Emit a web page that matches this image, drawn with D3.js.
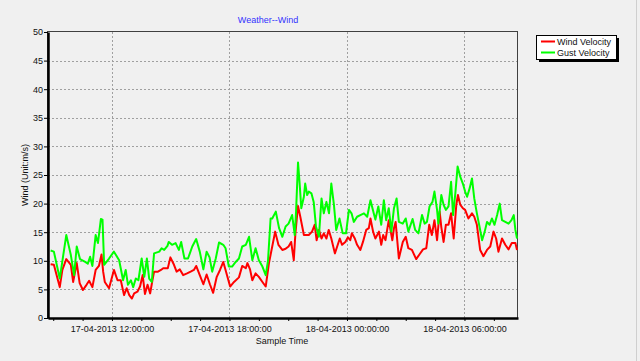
<!DOCTYPE html>
<html>
<head>
<meta charset="utf-8">
<script src="https://cdn.jsdelivr.net/npm/d3@7"></script>
<style>
  body { margin: 0; background: #f0f0f0; }
  text { font-family: "Liberation Sans", Arial, sans-serif; font-size: 9px; }
</style>
</head>
<body>
<div id="my_chart"></div>
<script>
// data (times 17-04-2013 .. 18-04-2013, rollover at midnight)
const gustTimes = [
  "08:52","09:02","09:20","09:40","09:54","10:04","10:12","10:22","10:38","10:46",
  "10:53","11:00","11:10","11:17","11:26","11:31","11:36","11:51","12:06","12:22",
  "12:34","12:42","12:49","12:58","13:05","13:13","13:21","13:31","13:39","13:47",
  "13:54","14:02","14:09","14:25","14:32","14:40","14:50","14:54","15:04","15:15",
  "15:25","15:32","15:42","15:53","16:06","16:18","16:29","16:40","16:50","16:59",
  "17:07","17:18","17:28","17:41","17:48","17:58","18:08","18:19","18:29","18:39",
  "18:50","19:00","19:10","19:20","19:30","19:41","19:51","19:58","20:06","20:11",
  "20:22","20:32","20:42","20:52","21:01","21:12","21:20","21:24","21:30","21:35",
  "21:40","21:48","21:52","21:58","22:03","22:11","22:18","22:25","22:34","22:42",
  "22:49","22:57","23:05","23:12","23:20","23:27","23:37","23:47","23:57","00:06",
  "00:14","00:21","00:31","00:41","00:52","01:02","01:12","01:22","01:27","01:36",
  "01:45","01:53","02:00","02:08","02:16","02:24","02:32","02:39","02:51","03:00",
  "03:08","03:21","03:29","03:39","03:50","03:58","04:05","04:13","04:22","04:28",
  "04:36","04:40","04:49","04:56","05:03","05:11","05:19","05:25","05:32","05:39",
  "05:47","05:55","06:02","06:08","06:16","06:23","06:30","06:38","06:46","06:54",
  "07:02","07:09","07:17","07:24","07:32","07:40","07:48","07:55","08:05","08:15",
  "08:24","08:31","08:36","08:41"
];
const gustValues = [
  11.8,11.6,6.9,14.5,11,7.5,12.5,10.3,9.8,9.5,
  10.7,9.1,14.5,13.1,17.3,17.2,9.3,10.4,11.6,10.1,
  6.6,8.4,5.8,6.6,5.4,6.9,6.6,10.4,7.2,10.4,
  6.9,6.3,11.3,11.6,12.2,11.9,12.6,13.3,12.8,13.1,
  11.9,13.3,10.4,10.4,12.5,13.8,11.6,8.5,11.6,10.6,
  8.1,10.4,13.2,12.8,12.2,9.0,9.0,9.8,10.4,12.5,
  12.8,14.2,10.1,12.2,10.1,9.0,7.5,10,17.4,17.4,
  18.6,15.7,14.2,16,16.5,18,14.5,18.6,27.2,23.5,
  19.2,21.2,23.5,21.5,22.1,21.8,20.3,16,14.2,20.9,
  18.3,20.3,18.3,23.5,19.8,15.4,17.4,14.8,14.8,18.9,
  18.3,16.8,17.7,18,18.3,17.7,20.6,18.3,17.2,19.5,
  16.3,20.6,17.1,19.2,15.1,19.2,20.9,16.8,16.5,17.4,
  15.1,17.3,15.4,14.8,18,16.5,16.8,19.5,20.3,22.1,
  18.9,16.5,21.5,19.8,18.9,19.5,23.8,18,21.8,26.5,
  24.7,23.5,22.1,21.2,22.7,24.4,20.9,18.3,16,13.6,
  15.1,16.8,16.3,17.4,16.3,18,20,17.1,16.8,16.5,
  17.1,18,15.4,13.9
];
const windTimes = [
  "08:52","09:02","09:20","09:28","09:40","09:54","10:01","10:12","10:21","10:31",
  "10:42","10:50","11:00","11:10","11:20","11:28","11:33","11:38","11:51","12:06",
  "12:17","12:27","12:37","12:45","12:53","13:01","13:08","13:18","13:26","13:34",
  "13:41","13:49","13:57","14:04","14:09","14:21","14:30","14:37","14:51","14:59",
  "15:10","15:18","15:28","15:38","15:50","16:01","16:11","16:18","16:29","16:40",
  "16:50","17:00","17:10","17:21","17:31","17:41","17:48","18:02","18:14","18:29",
  "18:39","18:50","18:55","19:03","19:10","19:20","19:30","19:41","19:51","20:01",
  "20:11","20:20","20:30","20:42","20:52","21:01","21:09","21:17","21:22","21:30",
  "21:37","21:48","22:03","22:13","22:21","22:27","22:34","22:42","22:49","22:57",
  "23:04","23:12","23:23","23:30","23:38","23:45","23:55","00:03","00:10","00:15",
  "00:24","00:31","00:41","00:49","00:59","01:07","01:12","01:20","01:27","01:38",
  "01:45","01:51","01:58","02:08","02:19","02:24","02:29","02:39","02:51","03:00",
  "03:08","03:19","03:32","03:42","03:53","04:03","04:12","04:20","04:28","04:36",
  "04:44","04:49","04:56","05:03","05:11","05:19","05:27","05:35","05:40","05:47",
  "05:55","06:02","06:12","06:23","06:30","06:38","06:48","06:58","07:09","07:19",
  "07:29","07:37","07:44","07:55","08:05","08:15","08:25","08:36","08:41"
];
const windValues = [
  9.4,9.3,5.4,8.4,10.3,9.3,6.3,9.6,6.1,4.9,
  5.8,6.5,5.4,8.4,9.1,11.1,8.1,6.3,5.2,8.4,
  6.6,6.6,4.0,5.2,4.0,3.4,4.3,4.6,5.5,7.5,
  4.2,5.8,4.3,6.6,8.1,8.1,8.4,8.7,8.7,10.6,
  9.3,8.1,8.5,7.5,7.8,8.1,8.4,9.1,7.5,5.9,
  7.6,5.9,4.4,7.2,8.4,9.8,8.4,5.5,6.3,7.1,
  9.1,8.7,9.6,8.5,6.6,7.8,7.2,6.3,5.5,9.6,
  12.5,15.1,12.8,11.9,12.1,12.5,13.3,10.1,14.8,19.6,
  17.7,14.5,14.5,15.1,16.3,13.6,15.4,13.9,14.8,13.9,
  15.4,13.9,11.3,12.5,13.9,12.8,13.3,14.1,13.6,14.8,
  13.9,12.8,11.9,13.3,15.4,15.7,17.4,15.1,13.9,15.1,
  12.8,14.5,13.6,17.1,13.6,15.7,16.8,10.4,13.3,14.2,
  12.2,11.9,10.3,11.1,12,12.2,16.3,14.5,17.1,13.6,
  18.6,15.9,13.3,16.3,16.3,18.3,13.9,19.8,21.5,19.8,
  19.2,18.9,17.4,18.3,17.7,16.3,11.9,10.8,11.9,12.5,
  15.1,13.9,11.6,13.9,12.8,12,13.1,13.1,11.9
];
const yTicks = [0, 5, 10, 15, 20, 25, 30, 35, 40, 45, 50];
const seriesNames = ["Wind Velocity", "Gust Velocity"];
const seriesColors = ["#ff0000", "#00ff00"];
const startTime = new Date(2013, 3, 17, 8, 44);
const endTime = new Date(2013, 3, 18, 8, 44);

// plot box inside the 640x361 picture
const margin = { top: 32, right: 122, bottom: 43, left: 48 },
    fullW = 640, fullH = 361,
    width = fullW - margin.left - margin.right,
    height = fullH - margin.top - margin.bottom;

function toDates(times) {
    let day = 17, prev = -1;
    return times.map(t => {
        const [h, m] = t.split(":").map(Number);
        if (h * 60 + m < prev) day++;
        prev = h * 60 + m;
        return new Date(2013, 3, day, h, m);
    });
}

const wind = toDates(windTimes).map((d, i) => ({ t: d, v: windValues[i] }));
const gust = toDates(gustTimes).map((d, i) => ({ t: d, v: gustValues[i] }));

const root = d3.select("#my_chart")
    .append("svg")
    .attr("width", fullW)
    .attr("height", fullH);

root.append("rect").attr("width", fullW).attr("height", fullH).attr("fill", "#f0f0f0");
// window edge at the right
root.append("line")
    .attr("x1", 636.5).attr("x2", 636.5).attr("y1", 0).attr("y2", fullH)
    .attr("stroke", "#cfcfcf");

const svg = root.append("g")
    .attr("transform", `translate(${margin.left},${margin.top})`);

const x = d3.scaleTime().domain([startTime, endTime]).range([0, width]);
const y = d3.scaleLinear().domain([0, 50]).range([height, 0]);

// grid
svg.append("g")
    .selectAll("line")
    .data(yTicks.filter(d => d > 0 && d < 50))
    .join("line")
    .attr("x1", 0).attr("x2", width)
    .attr("y1", d => Math.round(y(d)) + 0.5).attr("y2", d => Math.round(y(d)) + 0.5)
    .attr("stroke", "#a0a0a0")
    .attr("stroke-dasharray", "2,2");

const majorTimes = d3.timeHour.every(6).range(startTime, endTime);
svg.append("g")
    .selectAll("line")
    .data(majorTimes)
    .join("line")
    .attr("x1", d => Math.round(x(d)) + 0.5).attr("x2", d => Math.round(x(d)) + 0.5)
    .attr("y1", 0).attr("y2", height)
    .attr("stroke", "#a0a0a0")
    .attr("stroke-dasharray", "2,2");

// frame
svg.append("rect")
    .attr("x", -0.5).attr("y", -0.5)
    .attr("width", width).attr("height", height + 1)
    .attr("fill", "none")
    .attr("stroke", "#404040");

// lines
const line = d3.line().x(d => x(d.t)).y(d => y(d.v));
[wind, gust].forEach((s, i) => {
    svg.append("path")
        .datum(s)
        .attr("fill", "none")
        .attr("stroke", seriesColors[i])
        .attr("stroke-width", 2)
        .attr("stroke-linejoin", "round")
        .attr("d", line);
});

// Y axis
const yAxis = svg.append("g")
    .call(d3.axisLeft(y).tickValues(yTicks).tickSize(4).tickSizeOuter(0).tickPadding(1));
yAxis.select(".domain").attr("stroke", "#000").attr("stroke-width", 2.5);
yAxis.selectAll("text").attr("fill", "#111").style("font-size", "9px").style("font-family", "'Liberation Sans', Arial, sans-serif");

// X axis: tick every 1.5 h, labels every 6 h
const xTicks = d3.timeMinute.range(startTime, endTime)
    .filter(d => (d.getHours() * 60 + d.getMinutes()) % 90 === 0);
const fmt = d3.timeFormat("%d-%m-%Y %H:%M:%S");
const xAxis = svg.append("g")
    .attr("transform", `translate(0,${height})`)
    .call(d3.axisBottom(x)
        .tickValues(xTicks)
        .tickSize(3)
        .tickSizeOuter(0)
        .tickPadding(5)
        .tickFormat(d => (d.getMinutes() === 0 && d.getHours() % 6 === 0) ? fmt(d) : ""));
xAxis.select(".domain").attr("stroke", "#000").attr("stroke-width", 2.5);
xAxis.selectAll("text").attr("fill", "#111").style("font-size", "9px").style("font-family", "'Liberation Sans', Arial, sans-serif");

// titles
root.append("text")
    .attr("x", 268).attr("y", 23)
    .attr("text-anchor", "middle")
    .attr("fill", "#3232ff")
    .text("Weather--Wind");

root.append("text")
    .attr("x", 282).attr("y", 344)
    .attr("text-anchor", "middle")
    .attr("fill", "#111")
    .text("Sample Time");

root.append("text")
    .attr("transform", "translate(28,175) rotate(-90)")
    .attr("text-anchor", "middle")
    .attr("fill", "#111")
    .text("Wind (Unit:m/s)");

// legend
const legend = root.append("g").attr("transform", "translate(536,35)");
legend.append("rect").attr("x", 3).attr("y", 3).attr("width", 80).attr("height", 24).attr("fill", "#000");
legend.append("rect").attr("x", 0.5).attr("y", 0.5).attr("width", 80).attr("height", 24)
    .attr("fill", "#fff").attr("stroke", "#000");
seriesNames.forEach((name, i) => {
    legend.append("line")
        .attr("x1", 5).attr("x2", 19)
        .attr("y1", 6.5 + i * 11).attr("y2", 6.5 + i * 11)
        .attr("stroke", seriesColors[i]).attr("stroke-width", 2);
    legend.append("text")
        .attr("x", 21).attr("y", 6.5 + i * 11)
        .attr("dy", "0.35em")
        .attr("fill", "#111")
        .text(name);
});
</script>
</body>
</html>
